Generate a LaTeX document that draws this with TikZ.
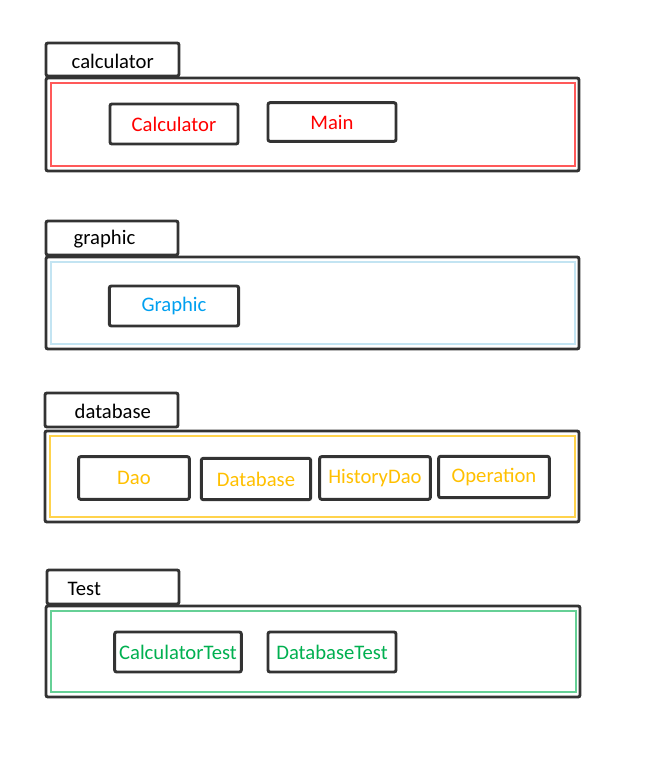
\documentclass[tikz,border=0pt]{standalone}
\usepackage{fontspec}
\setmainfont{Carlito}
\usetikzlibrary{positioning}
\definecolor{pkgred}{RGB}{255,0,0}
\definecolor{pkgblue}{RGB}{0,160,240}
\definecolor{pkgsky}{RGB}{195,228,242}
\definecolor{pkgyellow}{RGB}{255,192,0}
\definecolor{pkggreen}{RGB}{0,176,80}
\tikzset{
  pencil/.style={draw=black!80, line width=2.2pt, rounded corners=1.5pt},
  inner/.style={line width=2pt},
  classbox/.style={pencil, fill=white, minimum height=30pt, font=\fontsize{15.5}{18}\selectfont},
  pkgname/.style={font=\fontsize{15.5}{18}\selectfont, anchor=west}
}
\begin{document}
\begin{tikzpicture}[x=0.75pt, y=-0.75pt]
            \useasboundingbox (0,0) rectangle (644,765);

            % calculator package
            \draw[pencil] (46,43) rectangle (179,76);
            \node[pkgname] (calcname) at (67,61) {calculator};
            \draw[pencil] (46,78) rectangle (579,171);
            \draw[inner, pkgred!65] (51,83) rectangle (575,166);
            \node[classbox, text=pkgred, minimum width=96pt] (calculator) at (174,124) {Calculator};
            \node[classbox, text=pkgred, minimum width=96pt, minimum height=29pt] (main) at (332,122) {Main};

            % graphic package
            \draw[pencil] (46,221) rectangle (178,255);
            \node[pkgname] (graphname) at (69,239) {graphic};
            \draw[pencil] (46,257) rectangle (579,349);
            \draw[inner, pkgsky] (51,262) rectangle (575,344);
            \node[classbox, text=pkgblue, minimum width=97pt] (graphic) at (174,306) {Graphic};

            % database package
            \draw[pencil] (45,393) rectangle (178,427);
            \node[pkgname] (dbname) at (70,411) {database};
            \draw[pencil] (45,431) rectangle (579,522);
            \draw[inner, pkgyellow!70] (50,436) rectangle (575,517);
            \node[classbox, text=pkgyellow, minimum width=83pt, minimum height=32pt] (dao) at (134,478) {Dao};
            \node[classbox, text=pkgyellow, minimum width=82pt, minimum height=31pt] (database) at (256,479) {Database};
            \node[classbox, text=pkgyellow, minimum width=83pt, minimum height=32pt] (historydao) at (375,478) {HistoryDao};
            \node[classbox, text=pkgyellow, minimum width=83pt, minimum height=31pt] (operation) at (494,477) {Operation};

            % Test package
            \draw[pencil] (47,570) rectangle (179,604);
            \node[pkgname] (testname) at (63,589) {Test};
            \draw[pencil] (46,606) rectangle (580,697);
            \draw[inner, pkggreen!60] (51,611) rectangle (576,692);
            \node[classbox, text=pkggreen, minimum width=95pt] (calctest) at (178,652) {CalculatorTest};
            \node[classbox, text=pkggreen, minimum width=96pt] (dbtest) at (332,652) {DatabaseTest};
        \end{tikzpicture}
\end{document}
